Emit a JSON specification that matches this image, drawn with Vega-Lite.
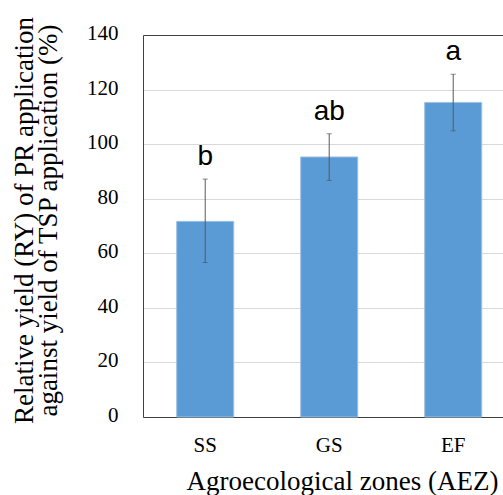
{
  "$schema": "https://vega.github.io/schema/vega-lite/v6.json",
  "autosize": {"type": "none"},
  "width": 360,
  "height": 382,
  "padding": {"left": 143, "top": 35, "right": 0, "bottom": 78},
  "background": "white",
  "config": {
    "view": {"stroke": "transparent", "strokeWidth": 0},
    "axis": {"labelFont": "Liberation Serif", "titleFont": "Liberation Serif", "labelColor": "#000", "titleColor": "#000", "titleFontWeight": "normal"}
  },
  "data": {
    "values": [
      {"zone": "SS", "ry": 71.7, "low": 56.6, "high": 87.2, "group": "b"},
      {"zone": "GS", "ry": 95.3, "low": 86.7, "high": 103.8, "group": "ab"},
      {"zone": "EF", "ry": 115.3, "low": 104.9, "high": 125.6, "group": "a"}
    ]
  },
  "encoding": {
    "x": {
      "field": "zone", "type": "nominal", "sort": ["SS", "GS", "EF"],
      "scale": {"paddingInner": 0.54, "paddingOuter": 0.2216, "align": 0.613},
      "axis": {
        "title": "Agroecological zones (AEZ)", "labelAngle": 0, "ticks": false, "tickSize": 0,
        "domainColor": "#404040", "labelFont": "Liberation Serif", "labelFontSize": 21, "labelBaseline": "alphabetic", "labelPadding": 34.5,
        "titleFont": "Liberation Serif", "titleFontSize": 27, "titleX": 199, "titleY": 72, "titleAlign": "center", "titleBaseline": "alphabetic",
        "grid": false
      }
    }
  },
  "layer": [
    {
      "mark": {"type": "bar", "color": "#5b9bd5", "stroke": "#9cc2e5", "strokeWidth": 1},
      "encoding": {
        "y": {
          "field": "ry", "type": "quantitative",
          "scale": {"domain": [0, 140], "nice": false},
          "axis": {
            "title": ["Relative yield (RY) of PR application", "against yield of TSP application (%)"],
            "values": [0, 20, 40, 60, 80, 100, 120, 140],
            "ticks": false, "tickSize": 0, "domainColor": "#404040",
            "gridColor": {"condition": {"test": "datum.value === 140", "value": "#404040"}, "value": "#d9d9d9"},
            "gridWidth": 1,
            "labelFont": "Liberation Serif", "labelFontSize": 21, "labelPadding": 25, "labelOffset": -1.5,
            "titleFont": "Liberation Serif", "titleFontSize": 27, "titleLineHeight": 24, "titleX": -111, "titleY": 185,
            "titleAlign": "center", "titleBaseline": "alphabetic", "titleAngle": -90
          }
        }
      }
    },
    {
      "mark": {"type": "rule", "color": "#595959", "strokeWidth": 1},
      "encoding": {
        "y": {"field": "low", "type": "quantitative"},
        "y2": {"field": "high"}
      }
    },
    {
      "mark": {"type": "tick", "color": "#595959", "size": 5, "thickness": 1, "orient": "horizontal"},
      "encoding": {"y": {"field": "low", "type": "quantitative"}}
    },
    {
      "mark": {"type": "tick", "color": "#595959", "size": 5, "thickness": 1, "orient": "horizontal"},
      "encoding": {"y": {"field": "high", "type": "quantitative"}}
    },
    {
      "mark": {"type": "text", "font": "Liberation Sans", "fontSize": 28, "color": "#000", "baseline": "alphabetic", "dy": -14},
      "encoding": {
        "y": {"field": "high", "type": "quantitative"},
        "text": {"field": "group"}
      }
    }
  ]
}
